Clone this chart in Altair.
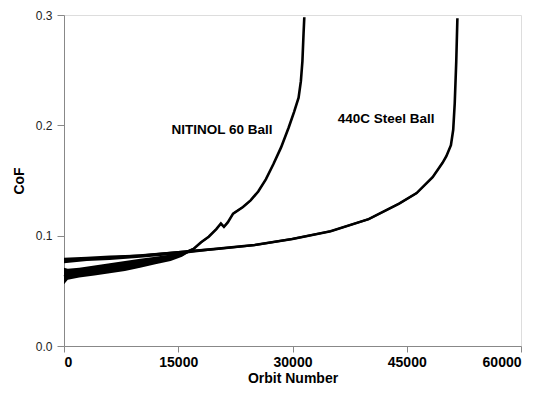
import altair as alt
import pandas as pd

# NITINOL 60 Ball trace (orbit number, CoF centre, band low, band high)
nit_x = [0, 500, 2000, 4000, 6000, 8000, 10000, 12000, 14000, 15500, 17000, 18000,
         19000, 20000, 20600, 21000, 21500, 22200, 23500, 24500, 25500, 26500, 27500,
         28500, 29500, 30200, 30800, 31100, 31300, 31450, 31550]
nit_y = [0.063, 0.064, 0.066, 0.068, 0.070, 0.072, 0.075, 0.077, 0.080, 0.083, 0.088, 0.094,
         0.099, 0.106, 0.111, 0.108, 0.112, 0.120, 0.126, 0.132, 0.140, 0.151, 0.165,
         0.180, 0.198, 0.212, 0.225, 0.240, 0.258, 0.283, 0.298]
nit_lo = [0.056, 0.060, 0.062, 0.064, 0.066, 0.068, 0.071, 0.074, 0.077, 0.081, 0.087, 0.093,
          0.098, 0.105, 0.110, 0.107, 0.111, 0.119, 0.125, 0.131, 0.139, 0.150, 0.164,
          0.179, 0.197, 0.211, 0.224, 0.239, 0.257, 0.282, 0.297]
nit_hi = [0.071, 0.070, 0.071, 0.073, 0.075, 0.077, 0.079, 0.081, 0.083, 0.085, 0.089, 0.095,
          0.100, 0.107, 0.112, 0.109, 0.113, 0.121, 0.127, 0.133, 0.141, 0.152, 0.166,
          0.181, 0.199, 0.213, 0.226, 0.241, 0.259, 0.284, 0.299]

# 440C Steel Ball trace
st_x = [0, 3000, 6000, 10000, 15000, 20000, 25000, 30000, 35000, 40000, 44000, 46300,
        48400, 49700, 50200, 50800, 51100, 51300, 51500, 51650]
st_y = [0.078, 0.079, 0.080, 0.082, 0.085, 0.088, 0.0915, 0.097, 0.104, 0.115, 0.129, 0.1386,
        0.153, 0.166, 0.172, 0.182, 0.196, 0.220, 0.258, 0.297]
st_lo = [0.075, 0.077, 0.078, 0.080, 0.083, 0.087, 0.0905, 0.096, 0.103, 0.114, 0.128, 0.1376,
         0.152, 0.165, 0.171, 0.181, 0.195, 0.219, 0.257, 0.296]
st_hi = [0.080, 0.081, 0.082, 0.083, 0.086, 0.089, 0.0925, 0.098, 0.105, 0.116, 0.130, 0.1396,
         0.154, 0.167, 0.173, 0.183, 0.197, 0.221, 0.259, 0.298]

label_text = ["NITINOL 60 Ball", "440C Steel Ball"]
label_x = [20740, 42280]
label_y = [0.1958, 0.2057]

x_ticks = [0, 15000, 30000, 45000, 60000]
y_ticks = [0.0, 0.1, 0.2, 0.3]

df = pd.concat([
    pd.DataFrame({"orbit": nit_x, "cof": nit_y, "lo": nit_lo, "hi": nit_hi, "series": "NITINOL 60 Ball"}),
    pd.DataFrame({"orbit": st_x, "cof": st_y, "lo": st_lo, "hi": st_hi, "series": "440C Steel Ball"}),
])
labels = pd.DataFrame({"text": label_text, "orbit": label_x, "cof": label_y})

FONT = "Liberation Sans"

xscale = alt.Scale(domain=[0, 60000], nice=False, zero=False)
yscale = alt.Scale(domain=[0, 0.3], nice=False)

xaxis = alt.Axis(title="Orbit Number", values=x_ticks, grid=False, format="d",
                 tickSize=6, labelPadding=3, titlePadding=2,
                 labelFontSize=14, labelFontWeight="bold",
                 titleFontSize=14, titleFontWeight="bold")
yaxis = alt.Axis(title="CoF", values=y_ticks, grid=False, format=".1f",
                 tickSize=7, labelPadding=5, titlePadding=9,
                 labelFontSize=12, labelFontWeight="normal", labelColor="#222",
                 titleFontSize=14, titleFontWeight="bold")

base = alt.Chart(df)
band = base.mark_area(color="black", opacity=1).encode(
    x=alt.X("orbit:Q", scale=xscale, axis=xaxis),
    y=alt.Y("lo:Q", scale=yscale, axis=yaxis), y2="hi:Q", detail="series:N")
line = base.mark_line(color="black", strokeWidth=2.6).encode(
    x=alt.X("orbit:Q", scale=xscale, axis=xaxis),
    y=alt.Y("cof:Q", scale=yscale, axis=yaxis), detail="series:N")
text = alt.Chart(labels).mark_text(font=FONT, fontSize=13.5, fontWeight="bold", color="black").encode(
    x=alt.X("orbit:Q", scale=xscale, axis=xaxis),
    y=alt.Y("cof:Q", scale=yscale, axis=yaxis), text="text:N")

chart = alt.layer(line, band, text).properties(
    width=457, height=331,
    autosize=alt.AutoSizeParams(type="none"),
    padding={"left": 56, "top": 7, "right": 10, "bottom": 47},
).configure_view(stroke=None).configure_axis(
    domainColor="black", tickColor="black", labelFont=FONT, titleFont=FONT,
    titleColor="black", domainWidth=1.2, tickWidth=1.2,
).configure(background="white")

chart.save("out.html", embed_options={"renderer": "svg", "actions": False})
